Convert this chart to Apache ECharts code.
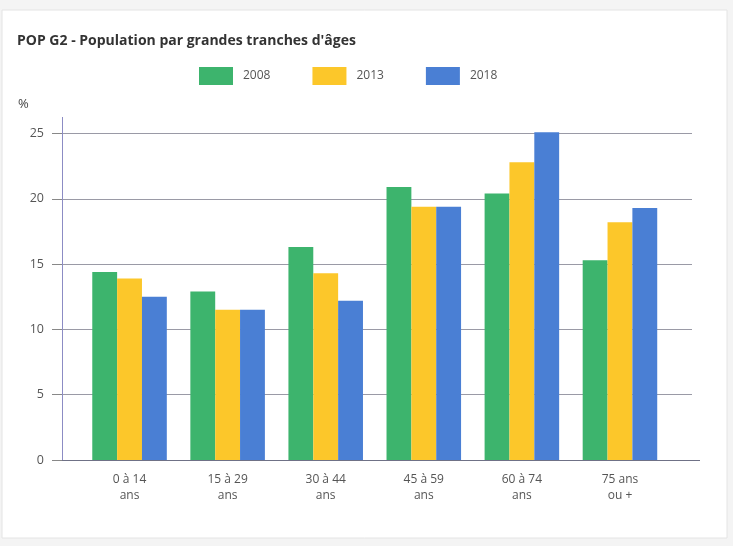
<!DOCTYPE html>
<html>
<head>
<meta charset="utf-8">
<script src="https://cdn.jsdelivr.net/npm/echarts@6/dist/echarts.min.js"></script>
<style>
  html, body { margin: 0; padding: 0; background: #f4f4f4; }
  #chart { width: 733px; height: 546px; }
</style>
</head>
<body>
<div id="chart"></div>
<script>
// Age groups and share of population (%) per census year
const categories = ['0 à 14\nans', '15 à 29\nans', '30 à 44\nans', '45 à 59\nans', '60 à 74\nans', '75 ans\nou +'];
const years = ['2008', '2013', '2018'];
const values2008 = [14.4, 12.9, 16.3, 20.9, 20.4, 15.3];
const values2013 = [13.9, 11.5, 14.3, 19.4, 22.8, 18.2];
const values2018 = [12.5, 11.5, 12.2, 19.4, 25.1, 19.3];
const yTicks = [0, 5, 10, 15, 20, 25];

const colors = ['#3db46d', '#fcc72a', '#4a7fd4'];
const font = '"Open Sans", "Noto Sans", sans-serif';

const chart = echarts.init(document.getElementById('chart'));

const seriesData = [values2008, values2013, values2018];

chart.setOption({
  backgroundColor: '#f4f4f4',
  animation: false,
  textStyle: { fontFamily: font },
  graphic: [
    {
      type: 'rect', z: -10,
      shape: { x: 2, y: 10, width: 725, height: 528 },
      style: { fill: '#ffffff', stroke: '#e4e4e4', lineWidth: 1 }
    },
    {
      // short extension of the value axis above the top tick
      type: 'line', z: 5,
      shape: { x1: 62.5, y1: 117, x2: 62.5, y2: 134 },
      style: { stroke: '#8c8cc4', lineWidth: 1 }
    },
    {
      // category baseline runs a little past the last gridline
      type: 'line', z: 5,
      shape: { x1: 692, y1: 460.5, x2: 700, y2: 460.5 },
      style: { stroke: '#6f7186', lineWidth: 1 }
    }
  ],
  title: {
    text: 'POP G2 - Population par grandes tranches d\'âges',
    left: 12, top: 29,
    textStyle: { fontFamily: font, fontSize: 14, fontWeight: 'bold', color: '#333' }
  },
  legend: {
    data: years,
    left: 194, top: 62,
    itemWidth: 34, itemHeight: 18, itemGap: 42,
    icon: 'rect',
    textStyle: { fontFamily: font, fontSize: 12, color: '#555', padding: [0, 0, 0, 5] }
  },
  grid: [
    { left: 62, right: 41, top: 133.5, bottom: 86 },
    { left: 80.5, right: 64, top: 133.5, bottom: 86 }
  ],
  xAxis: [
    {
      gridIndex: 0, type: 'value', min: 0, max: 1,
      axisLine: { show: true, lineStyle: { color: '#6f7186', width: 1 } },
      axisTick: { show: false }, axisLabel: { show: false }, splitLine: { show: false }
    },
    {
      gridIndex: 1, type: 'category', data: categories,
      axisLine: { show: false }, axisTick: { show: false },
      axisLabel: { fontFamily: font, fontSize: 12, color: '#555', lineHeight: 16, margin: 12 }
    }
  ],
  yAxis: [
    {
      gridIndex: 0, type: 'value', min: yTicks[0], max: yTicks[yTicks.length - 1], interval: 5,
      name: '%', nameLocation: 'end', nameGap: 23,
      nameTextStyle: { fontFamily: font, fontSize: 13, color: '#444', align: 'left', padding: [0, 0, 0, -44] },
      axisLine: { show: true, lineStyle: { color: '#8c8cc4', width: 1 } },
      axisTick: { show: true, length: 10, lineStyle: { color: '#888' } },
      axisLabel: { fontFamily: font, fontSize: 12.5, color: '#555', margin: 18 },
      splitLine: { show: true, lineStyle: { color: '#9a9aa6', width: 1 } }
    },
    {
      gridIndex: 1, type: 'value', min: yTicks[0], max: yTicks[yTicks.length - 1],
      show: false, splitLine: { show: false }
    }
  ],
  series: years.map((y, i) => ({
    name: y, type: 'bar', xAxisIndex: 1, yAxisIndex: 1,
    data: seriesData[i],
    clip: false,
    barGap: 0, barCategoryGap: '24%',
    itemStyle: { color: colors[i] }
  }))
});
</script>
</body>
</html>
